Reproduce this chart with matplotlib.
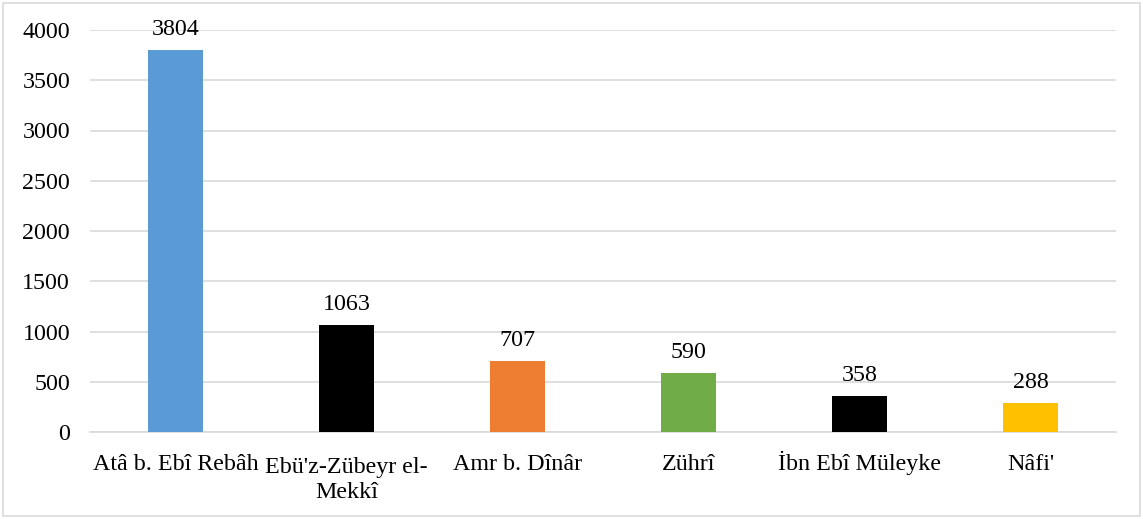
import matplotlib.pyplot as plt
from matplotlib.patches import Rectangle

# veriler
kategoriler = ["Atâ b. Ebî Rebâh", "Ebü'z-Zübeyr el-\nMekkî", "Amr b. Dînâr",
               "Zührî", "İbn Ebî Müleyke", "Nâfi'"]
degerler = [3804, 1063, 707, 590, 358, 288]
renkler = ["#5B9BD5", "#000000", "#ED7D31", "#70AD47", "#000000", "#FFC000"]
y_ticks = [0, 500, 1000, 1500, 2000, 2500, 3000, 3500, 4000]

plt.rcParams['font.family'] = ['Liberation Serif', 'DejaVu Serif']
fs = 17.3

W, H = 1143, 519
fig = plt.figure(figsize=(W / 100, H / 100), dpi=100)
ax = fig.add_axes([90 / W, 1 - 432 / H, (1116 - 90) / W, (432 - 30) / H])

x = range(len(kategoriler))
bars = ax.bar(x, degerler, width=0.316, color=renkler, zorder=3)

for b, v in zip(bars, degerler):
    ax.annotate(str(v), (b.get_x() + b.get_width() / 2, v),
                xytext=(0, 7), textcoords='offset points',
                ha='center', va='bottom', fontsize=fs)

# kategori etiketleri (son satırın taban çizgisine göre hizalı)
for i, k in zip(x, kategoriler):
    n = k.count('\n')
    ax.annotate(k, (i, 0), xycoords=('data', 'axes fraction'),
                xytext=(0, -27.4 - n * 20.2), textcoords='offset points',
                ha='center', va='baseline', fontsize=fs, linespacing=1.28,
                annotation_clip=False)

ax.set_xlim(-0.5, len(kategoriler) - 0.5)
ax.set_ylim(0, 4000)
ax.set_yticks(y_ticks)
ax.set_xticks(list(x))
ax.set_xticklabels([])
ax.tick_params(axis='y', labelsize=fs, length=0, pad=14.4)
ax.tick_params(axis='x', length=0)
ax.yaxis.grid(True, color='#D9D9D9', linewidth=1.2, zorder=0)
for s in ['top', 'right', 'left']:
    ax.spines[s].set_visible(False)
ax.spines['bottom'].set_color('#D9D9D9')
ax.spines['bottom'].set_linewidth(1.2)

# dış çerçeve
fig.patches.append(Rectangle((3 / W, 3 / H), 1 - 6 / W, 1 - 6 / H,
                             transform=fig.transFigure, fill=False,
                             edgecolor='#D9D9D9', linewidth=1.2))

plt.savefig('out.png', dpi=100)
plt.close()
